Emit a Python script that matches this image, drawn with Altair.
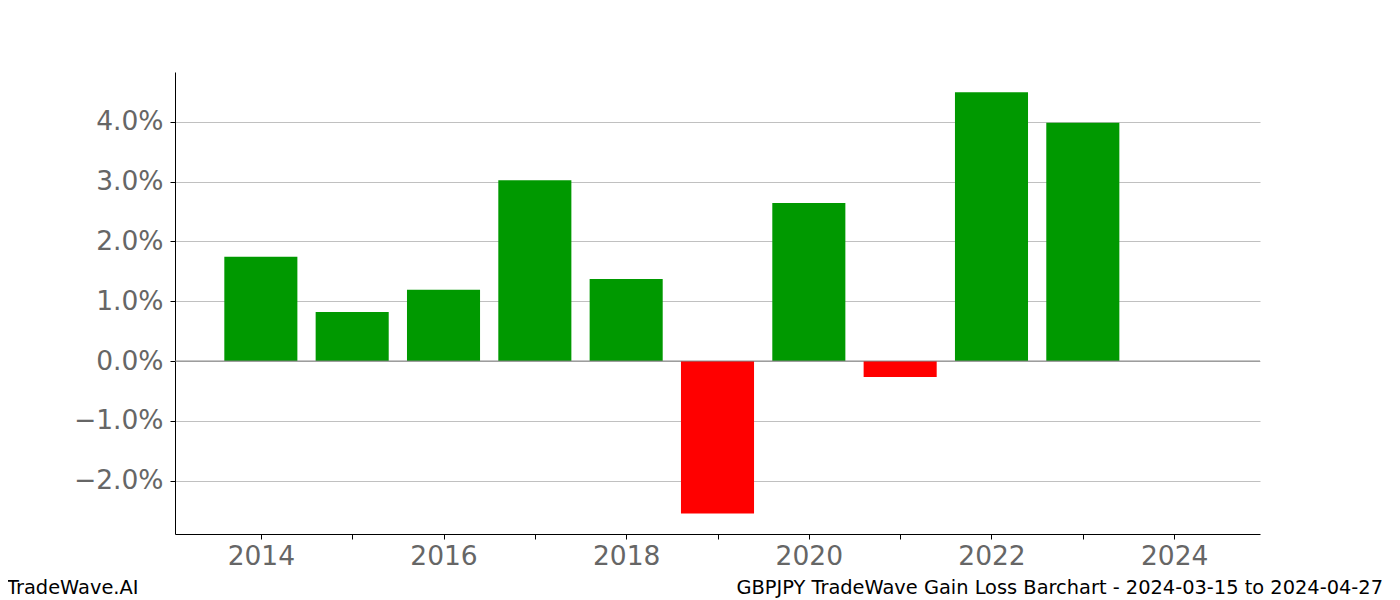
import altair as alt
import pandas as pd

years = [2014, 2015, 2016, 2017, 2018, 2019, 2020, 2021, 2022, 2023]
gains = [0.01742, 0.0082, 0.0119, 0.0302, 0.01372, -0.02546, 0.0264, -0.00268, 0.0449, 0.0398]
y_ticks = [-0.02, -0.01, 0.0, 0.01, 0.02, 0.03, 0.04]
x_ticks = [2014, 2015, 2016, 2017, 2018, 2019, 2020, 2021, 2022, 2023, 2024]
left_note = "TradeWave.AI"
right_note = "GBPJPY TradeWave Gain Loss Barchart - 2024-03-15 to 2024-04-27"

df = pd.DataFrame({"year": years, "gain": gains})
df["sign"] = ["gain" if g >= 0 else "loss" for g in gains]

FONT = "DejaVu Sans"
W, H = 1085, 462

xscale = alt.Scale(domain=[2013.06, 2024.94], nice=False, zero=False)
yscale = alt.Scale(domain=[-0.0289, 0.0483], nice=False, zero=False)

bars = alt.Chart(df).transform_calculate(
    x0="datum.year - 0.4", x1="datum.year + 0.4"
).mark_bar().encode(
    x=alt.X("x0:Q", scale=xscale, axis=alt.Axis(
        values=x_ticks, format="d", title=None, grid=False,
        labelExpr="datum.value % 2 == 0 ? datum.label : ''",
        labelFont=FONT, labelFontSize=26.5, labelColor="#666666",
        labelPadding=4, tickSize=5, tickColor="black", domainColor="black",
        labelFlush=False, labelOverlap=False)),
    x2="x1:Q",
    y=alt.Y("gain:Q", scale=yscale, axis=alt.Axis(
        values=y_ticks, format=".1%", title=None, grid=True,
        gridColor="#c0c0c0", gridWidth=1,
        labelFont=FONT, labelFontSize=26.5, labelColor="#666666",
        labelPadding=7, tickSize=5, tickColor="black", domainColor="black")),
    y2=alt.datum(0),
    color=alt.Color("sign:N", scale=alt.Scale(domain=["gain", "loss"], range=["#009900", "#ff0000"]), legend=None),
)

zero = alt.Chart(pd.DataFrame({"z": [0.0]})).mark_rule(color="#808080", strokeWidth=1).encode(
    y=alt.Y("z:Q", scale=yscale)
)

notes = pd.DataFrame({"t": [left_note]})
left = alt.Chart(notes).mark_text(
    align="left", baseline="alphabetic", font=FONT, fontSize=19.4, color="black"
).encode(text="t:N", x=alt.value(-168), y=alt.value(522))

notes2 = pd.DataFrame({"t": [right_note]})
right = alt.Chart(notes2).mark_text(
    align="right", baseline="alphabetic", font=FONT, fontSize=19.4, color="black"
).encode(text="t:N", x=alt.value(1208), y=alt.value(522))

chart = alt.layer(bars, zero, left, right).properties(
    width=W, height=H,
    autosize=alt.AutoSizeParams(type="none"),
    padding={"left": 167, "top": 64, "right": 128, "bottom": 66},
).configure_view(stroke=None).configure_axisX(domain=True).configure_axisY(domain=True)

chart.save("out.html", embed_options={"renderer": "svg", "actions": False})
